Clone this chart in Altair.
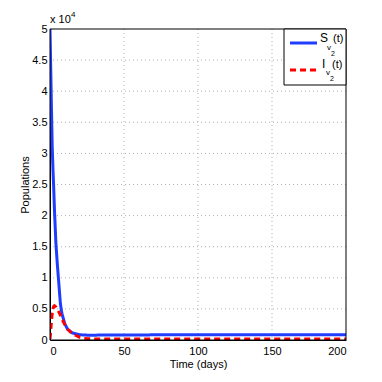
import altair as alt
import pandas as pd

t_days = [0, 0.5, 1, 1.5, 2, 2.5, 3, 4, 5, 6, 7, 8, 10, 12, 15, 20, 25, 30, 40, 50, 75, 100, 150, 200]
S_v2 = [50000, 43500, 37000, 31000, 27500, 24500, 21000, 15500, 12000, 9000, 5900, 4300, 2600, 1700,
        1150, 850, 780, 780, 800, 810, 830, 840, 850, 850]
I_v2 = [200, 1500, 3000, 4300, 5000, 5400, 5500, 5300, 4900, 4500, 4000, 3400, 2500, 1700,
        1000, 450, 220, 170, 150, 150, 150, 150, 150, 150]

x_ticks = [0, 50, 100, 150, 200]
y_ticks = [0, 5000, 10000, 15000, 20000, 25000, 30000, 35000, 40000, 45000, 50000]

df = pd.DataFrame({"t": t_days, "S": S_v2, "I": I_v2})
long = df.melt(id_vars="t", value_vars=["S", "I"], var_name="series", value_name="pop")

FONT = "Liberation Sans"
GRID = "#b0b0b0"

x_scale = alt.Scale(domain=[0, 200], nice=False)
y_scale = alt.Scale(domain=[0, 50000], nice=False)

x_enc = alt.X("t:Q", scale=x_scale,
              axis=alt.Axis(values=x_ticks, title="Time (days)", grid=False, ticks=False,
                            labelPadding=5, titlePadding=2, labelOverlap=False))
y_enc = alt.Y("pop:Q", scale=y_scale,
              axis=alt.Axis(values=y_ticks, title="Populations", grid=False, ticks=False,
                            labelExpr="'' + datum.value / 10000", labelPadding=3, titlePadding=1,
                            labelOverlap=False))

vgrid = alt.Chart(pd.DataFrame({"t": x_ticks[1:-1]})).mark_rule(
    color=GRID, strokeWidth=1, strokeDash=[1, 3]).encode(x=x_enc)
hgrid = alt.Chart(pd.DataFrame({"pop": y_ticks[1:-1]})).mark_rule(
    color=GRID, strokeWidth=1, strokeDash=[1, 3]).encode(y=y_enc)

lines = alt.Chart(long).mark_line(strokeWidth=3, clip=True).encode(
    x=x_enc,
    y=y_enc,
    color=alt.Color("series:N", scale=alt.Scale(domain=["S", "I"], range=["#1f3dff", "#ff0000"]),
                    legend=None),
    strokeDash=alt.StrokeDash("series:N", scale=alt.Scale(domain=["S", "I"], range=[[1, 0], [6, 4]]),
                              legend=None),
    order=alt.Order("t:Q"),
)

one = alt.Data(values=[{"k": 1}])


def txt(s, x, y, size, align="left"):
    return alt.Chart(one).mark_text(text=s, fontSize=size, font=FONT, align=align,
                                    baseline="alphabetic", color="black").encode(
        x=alt.value(x), y=alt.value(y))


frame = alt.Chart(one).mark_rect(fill=None, stroke="black", strokeWidth=1).encode(
    x=alt.value(0), x2=alt.value(296), y=alt.value(0), y2=alt.value(311))
box = alt.Chart(one).mark_rect(fill="white", stroke="black", strokeWidth=1).encode(
    x=alt.value(234), x2=alt.value(296), y=alt.value(0), y2=alt.value(56))
leg_s = alt.Chart(one).mark_rule(color="#1f3dff", strokeWidth=3).encode(
    x=alt.value(240), x2=alt.value(267), y=alt.value(14))
leg_i = alt.Chart(one).mark_rule(color="#ff0000", strokeWidth=3, strokeDash=[6, 4]).encode(
    x=alt.value(240), x2=alt.value(267), y=alt.value(41))

layers = [
    vgrid, hgrid, lines, frame, box, leg_s, leg_i,
    txt("S", 270, 13, 12), txt("v", 277, 21, 8), txt("2", 281, 27, 7), txt("(t)", 283, 13, 11),
    txt("I", 272, 39, 12), txt("v", 276, 46, 8), txt("2", 280, 52, 7), txt("(t)", 282, 39, 11),
    txt("x 10", 0, -6, 11), txt("4", 21, -12, 8),
]

chart = alt.layer(*layers).properties(
    width=296, height=311,
    autosize=alt.AutoSizeParams(type="none"),
    padding={"left": 42, "top": 21, "right": 20, "bottom": 40},
).configure_view(
    stroke=None
).configure_axis(
    labelFont=FONT, titleFont=FONT, labelFontSize=11, titleFontSize=11,
    titleFontWeight="normal", labelColor="black", titleColor="black",
    domainColor="black",
)

chart.save("out.html", embed_options={"renderer": "svg", "actions": False})
